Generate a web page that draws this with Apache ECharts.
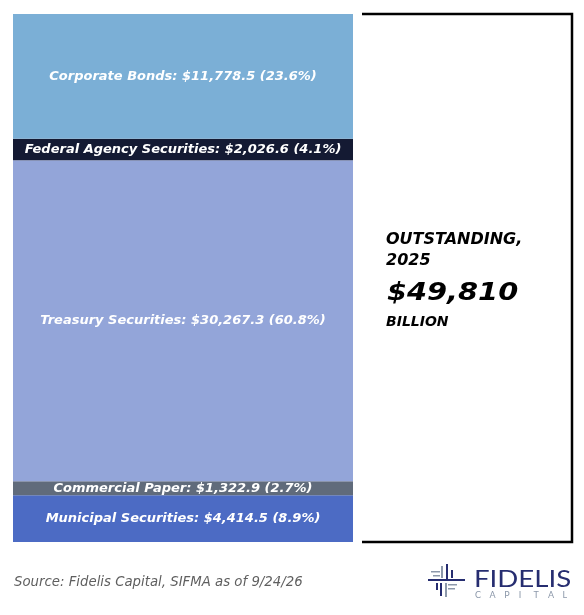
<!DOCTYPE html>
<html>
<head>
<meta charset="utf-8">
<script src="https://cdn.jsdelivr.net/npm/echarts@6/dist/echarts.min.js"></script>
<style>
html,body{margin:0;padding:0;background:#fff;}
#chart{width:584px;height:615px;}
</style>
</head>
<body>
<div id="chart"></div>
<script>
// Data (top to bottom as shown in the reference)
const categories = ['Corporate Bonds', 'Federal Agency Securities', 'Treasury Securities', 'Commercial Paper', 'Municipal Securities'];
const values = [11778.5, 2026.6, 30267.3, 1322.9, 4414.5];
const percents = [23.6, 4.1, 60.8, 2.7, 8.9];
const colors = ['#7bafd6', '#141a33', '#93a5d9', '#606b7b', '#4c6bc4'];
const yearLabel = '2025';
const sourceText = 'Source: Fidelis Capital, SIFMA as of 9/24/26';

const total = values.reduce((a, b) => a + b, 0);
const fmt = v => '$' + v.toLocaleString('en-US', {minimumFractionDigits: 1, maximumFractionDigits: 1});

const chart = echarts.init(document.getElementById('chart'), null, {renderer: 'canvas'});

const series = [];
for (let i = categories.length - 1; i >= 0; i--) {
  series.push({
    name: categories[i],
    type: 'bar',
    stack: 'total',
    barWidth: '100%',
    data: [values[i]],
    itemStyle: {color: colors[i]},
    label: {
      show: true,
      position: 'inside',
      formatter: () => categories[i] + ': ' + fmt(values[i]) + ' (' + percents[i].toFixed(1) + '%)',
      color: '#ffffff',
      fontFamily: 'DejaVu Sans',
      fontStyle: 'italic',
      fontWeight: 'bold',
      fontSize: 13
    },
    emphasis: {disabled: true}
  });
}

const totalText = '$' + Math.round(total).toLocaleString('en-US');
const titleFont = 'italic bold 16px "DejaVu Sans"';

const graphics = [
  {type: 'polyline', shape: {points: [[362, 14], [572, 14], [572, 542], [362, 542]]}, style: {stroke: '#000', lineWidth: 2.5, fill: null}},
  {type: 'text', left: 386, top: 232, style: {text: 'OUTSTANDING,', font: titleFont, fill: '#000'}},
  {type: 'text', left: 386, top: 253, style: {text: yearLabel, font: titleFont, fill: '#000'}},
  {type: 'text', x: 387, y: 282, scaleX: 1.2, style: {text: totalText, font: 'italic bold 24px "DejaVu Sans"', fill: '#000'}},
  {type: 'text', left: 386, top: 315, style: {text: 'BILLION', font: 'italic bold 14px "DejaVu Sans"', fill: '#000'}},
  {type: 'text', left: 14, top: 576, style: {text: sourceText, font: 'italic 13.3px "DejaVu Sans"', fill: '#5f5f5f'}},
  // logo
  {type: 'text', x: 474, y: 567, scaleX: 1.15, style: {text: 'FIDELIS', font: '24px "Lato"', fill: '#262d70'}},
  // icon
  {type: 'rect', shape: {x: 428, y: 579, width: 37, height: 2}, style: {fill: '#262d70'}},
  {type: 'rect', shape: {x: 446, y: 564, width: 2, height: 15}, style: {fill: '#262d70'}},
  {type: 'rect', shape: {x: 451, y: 570, width: 2, height: 8}, style: {fill: '#262d70'}},
  {type: 'rect', shape: {x: 441, y: 566, width: 2, height: 12}, style: {fill: '#8c98aa'}},
  {type: 'rect', shape: {x: 431, y: 571, width: 9, height: 1.5}, style: {fill: '#8c98aa'}},
  {type: 'rect', shape: {x: 433, y: 575, width: 7, height: 1.5}, style: {fill: '#8c98aa'}},
  {type: 'rect', shape: {x: 436, y: 583, width: 2, height: 7}, style: {fill: '#262d70'}},
  {type: 'rect', shape: {x: 440, y: 583, width: 2, height: 13}, style: {fill: '#262d70'}},
  {type: 'rect', shape: {x: 445, y: 583, width: 2, height: 14}, style: {fill: '#8c98aa'}},
  {type: 'rect', shape: {x: 448, y: 584, width: 9, height: 1.5}, style: {fill: '#8c98aa'}},
  {type: 'rect', shape: {x: 448, y: 588, width: 7, height: 1.5}, style: {fill: '#8c98aa'}}
];
'CAPITAL'.split('').forEach((ch, k) => {
  graphics.push({type: 'text', x: 475 + k * 14.6, y: 591, style: {text: ch, font: '9px "Lato"', fill: '#8c98aa'}});
});

chart.setOption({
  animation: false,
  grid: {left: 13, top: 14, width: 340, height: 528},
  xAxis: {type: 'category', data: [yearLabel], show: false},
  yAxis: {type: 'value', min: 0, max: total, show: false},
  series: series,
  graphic: graphics
});
</script>
</body>
</html>
